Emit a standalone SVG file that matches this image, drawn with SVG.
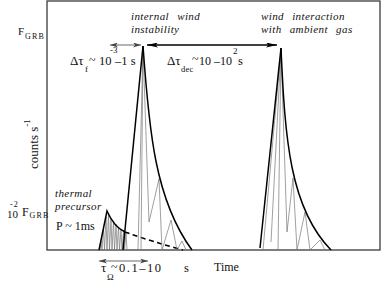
<svg xmlns="http://www.w3.org/2000/svg" width="382" height="285" viewBox="0 0 382 285">
<style>
text{font-family:"Liberation Serif","Times New Roman",serif;fill:#111}
.it{font-style:italic;font-size:11px;word-spacing:5px;letter-spacing:0.4px}
.frame{fill:none;stroke:#3a3a3a;stroke-width:1.3}
.env{fill:none;stroke:#000;stroke-width:1.5}
.sub{fill:none;stroke:#777;stroke-width:0.7}
.thin{stroke:#444;stroke-width:0.8;fill:none}
.thick{stroke:#000;stroke-width:1.6;fill:none}
.s8{font-size:8px;letter-spacing:1.2px}
.s9{font-size:9px}
</style>
<defs>
<marker id="ah" viewBox="0 0 8 5" refX="8" refY="2.5" markerWidth="8" markerHeight="5" markerUnits="userSpaceOnUse" orient="auto-start-reverse">
<path d="M0,0 L8,2.5 L0,5 L2.2,2.5 z" fill="#444"/>
</marker>
<marker id="ahk" viewBox="0 0 11 5" refX="11" refY="2.5" markerWidth="11" markerHeight="5" markerUnits="userSpaceOnUse" orient="auto-start-reverse">
<path d="M0,0 L11,2.5 L0,5 L2.5,2.5 z" fill="#000"/>
</marker>
</defs>

<g id="frame">
<rect class="frame" x="47" y="1" width="333" height="249"/>
</g>

<g id="precursor">
<polyline class="sub" points="100,250 101,241 102,250 103.5,229 104.5,250 106,217 107,250 108.5,214 109.5,250 111,218 112,250 113.5,221 114.5,250 116,224 117,250 118.5,227 119.5,250 121,229 122,250 123.5,231 124.5,250 126,233 127,250"/>
<path class="env" d="M99,250 L107,211 C111,220 116,228 125,232"/>
<path class="env" d="M125,232 Q150,241 183,250" stroke-dasharray="5,3.5" stroke-width="1.2"/>
</g>

<g id="peak1">
<polyline class="sub" points="138,250 143,47 141,250"/>
<polyline class="sub" points="143,47 149,222 159,179 162,250 171,220 177,250 182,241 186,250"/>
<path class="env" d="M123,250 L143,46"/>
<path class="env" d="M143,46 C149,130 155,200 192,250"/>
</g>

<g id="peak2">
<polyline class="sub" points="263,250 281,50 271,242"/>
<polyline class="sub" points="281,50 287,232 293,178 297,250 305,212 310,250 320,240 325,250"/>
<line class="sub" x1="281" y1="50" x2="278" y2="250"/>
<path class="env" d="M260,248 L281,48"/>
<path class="env" d="M281,48 C285,140 290,208 331,250"/>
</g>

<g id="connectors">
<line class="thin" x1="110" y1="45" x2="141" y2="45" marker-start="url(#ah)" marker-end="url(#ah)"/>
<line class="thick" x1="147" y1="45" x2="277" y2="45" marker-start="url(#ahk)" marker-end="url(#ahk)"/>
<line class="thin" x1="99" y1="261" x2="148" y2="261" marker-start="url(#ah)" marker-end="url(#ah)"/>
</g>

<g id="labels" font-family="'Liberation Serif', 'Times New Roman', serif">
<text x="18" y="35" font-size="11">F<tspan class="s8" x="25" y="39">GRB</tspan></text>
<text x="7" y="217.5" font-size="11">10<tspan class="s8" x="10" y="206.5" letter-spacing="0">-2</tspan><tspan x="22" y="216" font-size="12">F</tspan><tspan class="s8" x="29.5" y="218">GRB</tspan></text>
<text transform="translate(38,169) rotate(-90)" font-size="13">counts s<tspan dy="-8" font-size="9">-1</tspan></text>

<text class="it" x="131" y="20">internal wind<tspan x="131" y="32.5">instability</tspan></text>
<text class="it" x="261" y="20">wind interaction<tspan x="261" y="32.5">with ambient gas</tspan></text>

<text x="70" y="65" font-size="13">Δτ<tspan class="s9" x="85" y="72">f</tspan><tspan x="89" y="64" font-size="12">~</tspan><tspan x="99" y="65" font-size="12.5">10</tspan><tspan class="s9" x="110" y="53">-3</tspan><tspan x="115" y="65" font-size="12.5">–1 s</tspan></text>

<text x="167" y="65" font-size="13">Δτ<tspan x="181" y="72" font-size="8.5" letter-spacing="0.2">dec</tspan><tspan x="192" y="63" font-size="12">~</tspan><tspan x="199" y="65" font-size="12">10 –10</tspan><tspan class="s9" x="233" y="54">2</tspan><tspan x="238" y="65" font-size="12.5">s</tspan></text>

<text class="it" x="55" y="197" font-size="11.5" word-spacing="0" letter-spacing="0.3">thermal<tspan x="55" y="209.5">precursor</tspan></text>
<text x="56" y="230" font-size="12">P ~ 1ms</text>

<text x="101" y="272" font-size="13">τ<tspan class="s9" x="107" y="280">Ω</tspan><tspan x="111" y="271" font-size="12">~</tspan><tspan x="119" y="272" font-size="12.5" letter-spacing="1.5">0.1–10</tspan><tspan x="184" y="272" font-size="12.5">s</tspan></text>

<text x="214" y="271" font-size="12">Time</text>
</g>
</svg>
